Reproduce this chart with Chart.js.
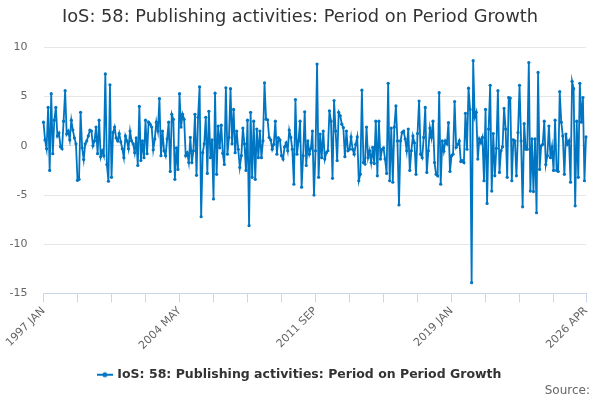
<!DOCTYPE html>
<html>
<head>
<meta charset="utf-8">
<script src="https://cdn.jsdelivr.net/npm/chart.js@4.4.1/dist/chart.umd.min.js"></script>
<style>
  html, body { margin: 0; padding: 0; background: #fff; }
  #wrap { position: relative; width: 600px; height: 400px; }
  #source { position: absolute; right: 10px; top: 383px; font: 12px "DejaVu Sans", sans-serif; color: #666; }
</style>
</head>
<body>
<div id="wrap">
  <canvas id="chart" width="600" height="400"></canvas>
  <div id="source">Source:</div>
</div>
<script>
const TITLE = "IoS: 58: Publishing activities: Period on Period Growth";
const SERIES_NAME = "IoS: 58: Publishing activities: Period on Period Growth";
const START_YEAR = 1997;
const MONTH_NAMES = ["JAN", "FEB", "MAR", "APR", "MAY", "JUN", "JUL", "AUG", "SEP", "OCT", "NOV", "DEC"];
const TICK_LABELS = ["1997 JAN", "2004 MAY", "2011 SEP", "2019 JAN", "2026 APR"];
const Y_TICKS = [10, 5, 0, -5, -10, -15];

// monthly growth, %
const growth = [
  // 1997 - 1999
  2.4, 0.6, -0.3, 3.9, -2.5, 5.3, -0.8, 2.6, 3.9, 1.0, 1.3, -0.1, -0.3, 2.5, 5.6, 1.2, 1.5, 0.6, 2.6, 1.6,
  0.8, 0.2, -3.5, -3.4, 3.4, -0.2, -1.4, 0.2, 0.5, 1.0, 1.6, 1.5, 0, 0.5,
  // 1999 - 2002
  1.9, -0.8, 2.6, -1.1, -0.5, -1.0, 7.3, -1.9, -3.6, 6.2, -3.2, 1.35, 1.9, 0.8, 0.5, 1.25, 0.4, -0.3, -1.2, 1.0,
  0.5, -0.3, 1.5, 0.5, 0.2, -0.7, 0.8, -2.0, 4.0, -1.5, 0.5, -1.2, 2.6, -0.8, 2.4, 2.2, 1.9, -0.4,
  // 2003 - 2005
  0.7, 2.4, 1.5, 4.8, -1.0, 1.5, -0.5, -1.0, 0.7, 2.4, -2.6, 3.2, 2.7, -3.4, -0.2, -2.4, 5.3, 1.9, 3.2, 2.7,
  -1.0, -0.7, -1.7, 0.85, -1.7, -0.5, 3.2, -3.0, 2.9, 6.0, -7.2, -0.7, 0.2, 2.9, -2.8,
  // 2005 - 2008
  3.5, -1.2, 0.6, -5.4, 5.35, -2.9, 2.0, -0.2, 2.1, -0.75, -1.9, 5.9, -0.85, 0.85, 5.8, 0.2, 3.7, -0.7, 1.5, -0.35,
  -2.2, -1.0, 1.8, 0.2, -2.5, 2.6, -8.1, 3.4, -3.2, 2.5, -3.4, 1.7, -1.2, 1.5, -1.2, 0.5, 6.4,
  // 2009 - 2011
  2.7, 2.65, 0.85, 0.6, -0.35, 0.15, 2.5, -0.85, 0.8, 0.6, -1.0, -1.35, -0.1, 0.3, -0.5, 1.6, 0.85, -0.35, -3.9, 4.7,
  -0.85, 0.5, 2.5, -4.2, -1.0, 3.45, -2.0, 0.5, -0.85, -0.25, 1.5, -5.0, -0.5, 8.3,
  // 2011 - 2014
  -3.2, 1.2, -1.2, 1.5, -1.35, -0.7, -0.5, 3.55, 2.5, -3.3, 4.6, 1.5, -1.5, 3.4, 3.05, 2.2, 1.85, -1.1, 1.5, -0.5,
  -0.35, 0.9, -0.35, -0.85, 0.15, 0.9, -3.55, -2.9, 5.65, -1.7, -1.85, 1.9, -1.2, -0.5, -1.7, -0.15,
  // 2014 - 2017
  -1.8, 2.5, -3.05, 2.5, -1.35, -0.35, -0.2, -1.35, -2.8, 6.35, -3.55, 1.8, -3.7, 1.9, 4.05, 0.5, -6.0, 0.5, 1.35, 1.5,
  0.7, -0.5, 1.7, -2.5, -0.5, 1.0, 0.3, -2.9, 1.25, 4.55, -0.85, -1.2, 0.85, 3.9, -2.7, -0.5,
  // 2017 - 2020
  1.8, 0.85, 2.5, -1.7, -2.9, -3.05, 5.4, -3.9, 0.5, -0.55, 0.5, 0.2, 2.35, -2.6, -1.0, -0.85, 4.5, -0.15, 0.15, 0.5,
  -1.6, -1.5, -1.7, 3.3, -0.35, 5.85, 3.7, -13.9, 8.65, 2.9, 3.4, -1.35, 0.7, 0.3, 0.85, -3.55,
  // 2020 - 2023
  3.7, -5.85, 1.7, 6.15, -4.6, 1.25, -3.05, -0.25, 5.6, -2.7, -0.5, -0.1, 3.8, 1.7, -3.2, 4.9, 4.85, -3.55, 0.6, 0.5,
  -3.05, 1.35, 6.15, 0.5, -6.2, 2.25, -0.35, -0.35, 8.45, -4.6, 0.7, -4.65, 0.7, -6.8, 7.45, -2.4,
  // 2023 - 2026
  0, 0.15, 2.5, -1.9, -1.0, 2.0, -1.2, -0.1, -2.5, 2.6, -2.5, -2.6, 5.5, 2.4, 1.0, -2.9, 1.2, 0.15, 0.5, -3.7,
  6.55, 5.8, -6.1, 2.5, -3.2, 6.35, 2.4, 4.9, -3.55, 0.9
];

const months = growth.map((v, i) => (START_YEAR + Math.floor(i / 12)) + " " + MONTH_NAMES[i % 12]);
const tickIdx = [];
for (let i = 0; i < months.length - 1; i += 22) tickIdx.push(i);
tickIdx.push(months.length - 1);

const BLUE = "#0075c2";
const FONT = "'DejaVu Sans', sans-serif";

// legend symbol: short line with a dot
const sym = document.createElement("canvas");
sym.width = 16; sym.height = 8;
const sc = sym.getContext("2d");
sc.strokeStyle = BLUE; sc.lineWidth = 2;
sc.beginPath(); sc.moveTo(0, 4); sc.lineTo(16, 4); sc.stroke();
sc.fillStyle = BLUE;
sc.beginPath(); sc.arc(8, 4, 2.5, 0, Math.PI * 2); sc.fill();

new Chart(document.getElementById("chart"), {
  type: "line",
  data: {
    labels: months,
    datasets: [{
      label: SERIES_NAME,
      data: growth,
      borderColor: BLUE,
      backgroundColor: BLUE,
      borderWidth: 1.8,
      pointRadius: 1.6,
      pointBackgroundColor: BLUE,
      pointBorderWidth: 0,
      tension: 0,
    }],
  },
  options: {
    responsive: false, animation: false,
    layout: { padding: { left: 0, right: 0, top: 0, bottom: 9 } },
    plugins: {
      title: {
        display: true, text: TITLE, color: "#333",
        font: { family: FONT, size: 17.8, weight: "normal" },
        padding: { top: 7, bottom: 19 },
      },
      legend: {
        position: "bottom",
        labels: {
          usePointStyle: true, pointStyle: sym, color: "#333", padding: 10,
          font: { family: FONT, size: 12.5, weight: "bold" },
        },
      },
      tooltip: { enabled: false },
    },
    scales: {
      y: {
        min: -15, max: 10,
        afterBuildTicks: (s) => { s.ticks = Y_TICKS.map((v) => ({ value: v })); },
        afterFit: (s) => { s.width = 43.5; },
        grid: { color: "#e6e6e6", drawTicks: false },
        border: { display: false },
        ticks: { color: "#666", padding: 16, font: { family: FONT, size: 11 } },
      },
      // empty right-hand gutter so the plot stops short of the edge
      gutter: {
        position: "right", min: -15, max: 10,
        afterFit: (s) => { s.width = 14; },
        grid: { display: false },
        border: { display: false },
        ticks: { display: false },
      },
      x: {
        afterBuildTicks: (s) => { s.ticks = tickIdx.map((i) => ({ value: i })); },
        afterFit: (s) => { s.height = 65; },
        grid: { drawOnChartArea: false, drawTicks: true, tickLength: 9, color: "#ccd6eb" },
        border: { color: "#ccd6eb" },
        ticks: {
          autoSkip: false, maxRotation: 45, minRotation: 45, color: "#666", padding: 2,
          font: { family: FONT, size: 11 },
          callback: function (v) {
            const l = this.getLabelForValue(v);
            return TICK_LABELS.includes(l) ? l : "";
          },
        },
      },
    },
  },
});
</script>
</body>
</html>
